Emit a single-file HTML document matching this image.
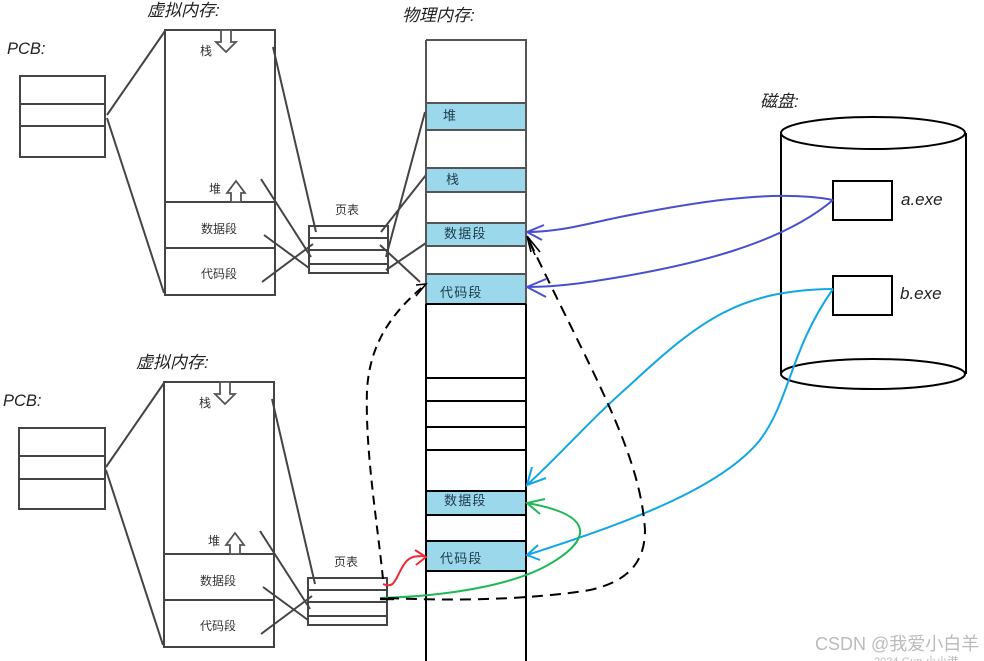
<!DOCTYPE html>
<html><head><meta charset="utf-8"><style>
html,body{margin:0;padding:0;background:#fff;width:984px;height:661px;overflow:hidden}
svg{display:block;filter:blur(.35px)}
text{font-family:"Liberation Sans","Noto Sans CJK SC",sans-serif}
.i{font-style:italic;font-size:17px;fill:#222}
.b{font-style:italic;font-size:16.5px;fill:#222}
.c{font-style:italic;font-size:17px;fill:#222}
.s{font-size:12px;fill:#333}
.p{font-size:13px;fill:#1e3a4a;letter-spacing:1.2px}
.g{fill:none;stroke:#444;stroke-width:2}
.k{fill:none;stroke:#000;stroke-width:2}
</style></head><body>
<svg width="984" height="661" viewBox="0 0 984 661" xmlns="http://www.w3.org/2000/svg">
<defs>
<g id="vm">
<rect class="g" x="165" y="30" width="110" height="265"/>
<path class="g" d="M165 202H274M165 248H274"/>
<path class="g" d="M107 115L165 31M107 118L164 293"/>
<path class="g" d="M273 47L316 232M261 179L311 257M264 235L309 268M262 282L313 244"/>
<rect class="g" x="309" y="226" width="79" height="47"/>
<path class="g" d="M309 238H388M309 250H388M309 264H388"/>
<path d="M221 30h10v12h5l-10 10l-10-10h5z" fill="#fff" stroke="#555" stroke-width="1.8"/>
<path d="M231 202h10v-9h4l-9-12l-9 12h4z" fill="#fff" stroke="#555" stroke-width="1.8"/>
<text class="s" x="200" y="55">栈</text>
<text class="s" x="209" y="193">堆</text>
<text class="s" x="201" y="233">数据段</text>
<text class="s" x="201" y="278">代码段</text>
<text class="s" x="335" y="214">页表</text>
</g>
</defs>

<text class="c" x="147" y="16">虚拟内存:</text>
<text class="b" x="7" y="54">PCB:</text>
<rect class="g" x="20" y="76" width="85" height="81"/>
<path class="g" d="M20 104H105M20 126H105"/>
<use href="#vm"/>

<text class="c" x="136" y="368">虚拟内存:</text>
<text class="b" x="3" y="406">PCB:</text>
<rect class="g" x="19" y="428" width="86" height="81"/>
<path class="g" d="M19 456H105M19 479H105"/>
<use href="#vm" transform="translate(-1,352)"/>

<path class="g" d="M381 232L426 175M386 257L425 112M386 270L426 243M380 245L420 282"/>

<text class="c" x="402" y="21">物理内存:</text>
<rect x="426" y="103" width="100" height="27" fill="#9bd8eb"/>
<rect x="426" y="168" width="100" height="24" fill="#9bd8eb"/>
<rect x="426" y="223" width="100" height="23" fill="#9bd8eb"/>
<rect x="426" y="274" width="100" height="30" fill="#9bd8eb"/>
<rect x="426" y="491" width="100" height="24" fill="#9bd8eb"/>
<rect x="426" y="541" width="100" height="30" fill="#9bd8eb"/>
<path fill="none" stroke="#555" stroke-width="2" d="M426 40H526V304M426 40V304M426 103H526M426 130H526M426 168H526M426 192H526M426 223H526M426 246H526M426 274H526"/>
<path class="k" d="M426 304V661M526 304V661M426 304H526M426 378H526M426 401H526M426 427H526M426 450H526M426 491H526M426 515H526M426 541H526M426 571H526" stroke-width="2.4"/>
<text class="p" x="443" y="120">堆</text>
<text class="p" x="446" y="184">栈</text>
<text class="p" x="444" y="238">数据段</text>
<text class="p" x="440" y="297">代码段</text>
<text class="p" x="444" y="505">数据段</text>
<text class="p" x="440" y="563">代码段</text>

<text class="i" x="760" y="107">磁盘:</text>
<path class="k" d="M781 133V374M966 133V374"/>
<ellipse class="k" cx="873" cy="133" rx="92" ry="16" fill="#fff"/>
<ellipse class="k" cx="873" cy="374" rx="92" ry="15"/>
<rect class="k" x="833" y="181" width="59" height="39"/>
<rect class="k" x="833" y="276" width="59" height="39"/>
<text class="i" x="901" y="205">a.exe</text>
<text class="i" x="900" y="299">b.exe</text>

<g fill="none" stroke="#4a4fcf" stroke-width="2">
<path d="M833 200C770 188 680 205 620 217C590 223 560 232 527 232"/>
<path d="M544 225L527 232L542 240"/>
<path d="M833 200C780 245 690 265 620 277C590 282 560 287 527 287"/>
<path d="M546 279L527 287L546 297"/>
</g>
<g fill="none" stroke="#12a6e6" stroke-width="2">
<path d="M833 289C740 290 700 320 630 385C590 420 560 455 527 485"/>
<path d="M532 467L527 485L546 478"/>
<path d="M833 289C790 350 790 400 760 440C720 490 620 525 527 555"/>
<path d="M538 545L527 555L540 560"/>
</g>
<g fill="none" stroke="#20b857" stroke-width="2">
<path d="M380 598C450 596 512 585 548 565C592 540 596 515 527 503"/>
<path d="M545 499L527 503L540 514"/>
</g>
<g fill="none" stroke="#ee2a35" stroke-width="2">
<path d="M383 584C396 590 396 575 405 563C410 556 416 556 425 556"/>
<path d="M415 550L426 557L416 565"/>
</g>
<g fill="none" stroke="#000" stroke-width="2">
<path stroke-dasharray="9 6" d="M383 579C377 520 365 450 367 390C370 340 395 310 426 284"/>
<path d="M416 285L426 284L416 296" stroke-width="1.6"/>
<path stroke-dasharray="11 7" d="M388 598C450 601 530 600 590 590C625 582 645 565 645 530C640 450 590 370 527 236"/>
<path d="M527 236L531 252M527 236L540 252M527 236L535 255" stroke-width="1.6"/>
<path d="M380 599H394" stroke-width="2.4"/>
</g>

<text x="815" y="650" font-size="18" fill="#bbb">CSDN @我爱小白羊</text>
<text x="874" y="665" font-size="11" fill="#bbb">2024 Gun 小小港</text>
</svg>
</body></html>
